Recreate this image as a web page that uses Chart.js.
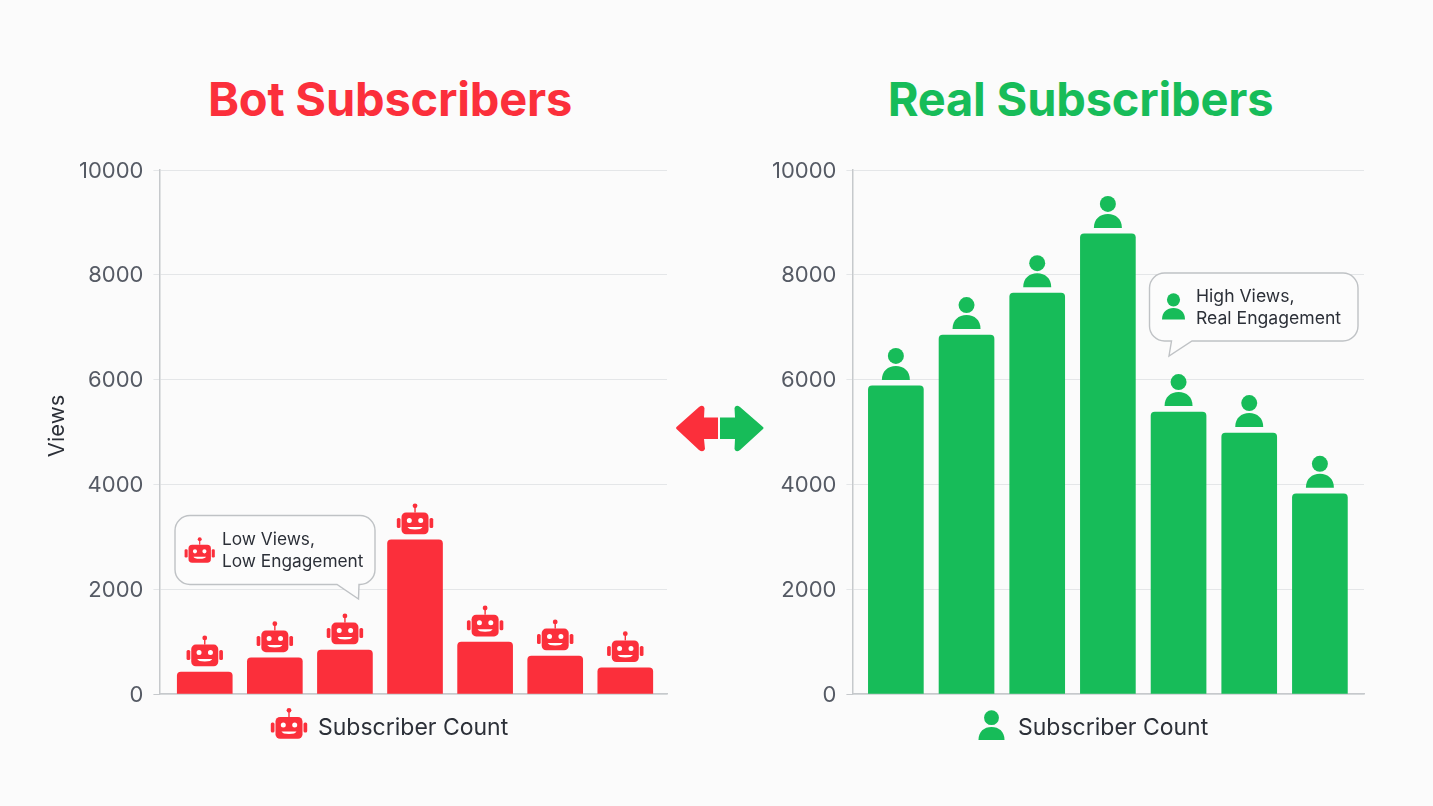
<!DOCTYPE html>
<html><head><meta charset="utf-8">
<script src="https://cdn.jsdelivr.net/npm/chart.js@4"></script>
<style>
html,body{margin:0;padding:0;width:1433px;height:806px;overflow:hidden;background:#fbfbfb;font-family:Inter,sans-serif}
canvas{position:absolute;top:0}
.t{position:absolute;top:69px;font:700 47px Inter,sans-serif;white-space:nowrap;transform:translateX(-50%);line-height:60px;letter-spacing:-0.2px}
svg{position:absolute;left:0;top:0}
</style></head><body>
<div class="t" style="left:390px;color:#fb2f3b">Bot Subscribers</div>
<div class="t" style="left:1080.5px;color:#17bc59">Real Subscribers</div>
<canvas id="a" style="left:0"></canvas>
<canvas id="b" style="left:719px"></canvas>
<svg width="1433" height="806">
<path d="M718 417.5V439H704L705 449Q703 453 699 450L676.5 429Q675.500 428 676.500 427L699 407Q703 404 704.500 408L704 417.500Z" fill="#fb2f3b"/>
<path d="M720 417.500V439H735L734.500 449Q736 453 740 450L763 429Q764 428 763 427L740 407Q736 404 734.500 408L735 417.500Z" fill="#17bc59"/>
</svg>
<script>
const categories = ['1','2','3','4','5','6','7'];
const botViews = [420, 690, 840, 2940, 990, 725, 500];
const realViews = [5880, 6850, 7650, 8780, 5380, 4980, 3820];
const yTicks = [0, 2000, 4000, 6000, 8000, 10000];
const xAxisLabel = 'Subscriber Count';
const yAxisLabel = 'Views';
const botNote = ['Low Views,', 'Low Engagement'];
const realNote = ['High Views,', 'Real Engagement'];

const RED = '#fb2f3b', GREEN = '#17bc59', INK = '#2c3038', AXIS = '#c6c9cc', GRID = '#e4e6e8';

function robot(c, cx, by, s, col){ // cx centre, by head bottom
  const w=27*s,h=21.7*s,top=by-h;
  c.fillStyle=col;
  c.beginPath();c.roundRect(cx-w/2,top,w,h,4.5*s);c.fill();
  c.beginPath();c.roundRect(cx-w/2-4.7*s,top+5.5*s,3.7*s,10*s,1.5*s);c.fill();
  c.beginPath();c.roundRect(cx+w/2+1*s,top+5.5*s,3.7*s,10*s,1.5*s);c.fill();
  c.fillRect(cx-.7*s,top-6*s,1.4*s,6*s);
  c.beginPath();c.arc(cx,top-6.7*s,2.4*s,0,7);c.fill();
  c.fillStyle='#fff';
  c.beginPath();c.arc(cx-5.7*s,top+8*s,2.5*s,0,7);c.arc(cx+5.7*s,top+8*s,2.5*s,0,7);c.fill();
  c.beginPath();c.moveTo(cx-7.5*s,top+14.5*s);c.lineTo(cx+7.5*s,top+14.5*s);
  c.quadraticCurveTo(cx+6.5*s,top+17*s,cx,top+17*s);c.quadraticCurveTo(cx-6.5*s,top+17*s,cx-7.5*s,top+14.5*s);c.fill();
}
function person(c, cx, by, s, col){ // by body bottom
  c.fillStyle=col;
  c.beginPath();c.arc(cx,by-24*s,8*s,0,7);c.fill();
  c.beginPath();c.moveTo(cx-14*s,by);
  c.bezierCurveTo(cx-14*s,by-9*s,cx-8*s,by-14*s,cx,by-14*s);
  c.bezierCurveTo(cx+8*s,by-14*s,cx+14*s,by-9*s,cx+14*s,by);c.closePath();c.fill();
}
function bubble(c,x0,y0,x1,y1,r,ta,tx,ty,tb){
  c.beginPath();c.moveTo(x0+r,y0);c.arcTo(x1,y0,x1,y1,r);c.arcTo(x1,y1,x0,y1,r);
  c.lineTo(ta,y1);c.lineTo(tx,ty);c.lineTo(tb,y1);
  c.arcTo(x0,y1,x0,y0,r);c.arcTo(x0,y0,x1,y0,r);c.closePath();
  c.fillStyle='#fcfcfc';c.fill();c.strokeStyle='#bfc2c5';c.lineWidth=1.4;c.stroke();
}
function marks(kind, off){
  return {id:'marks'+kind,
  afterLayout(ch){ ch.scales.y.getLabelItems(ch.chartArea).forEach(it=>{it.textOffset+=1;}); },
  afterDatasetsDraw(ch){
    const c=ch.ctx,x=ch.scales.x,y=ch.scales.y,vals=ch.data.datasets[0].data;
    vals.forEach(p=>{
      const px=x.getPixelForValue(p.x),py=y.getPixelForValue(p.y);
      if(kind==='bot') robot(c,px,py-5.7,1,RED); else person(c,px,py-6,1,GREEN);
    });
    c.textBaseline='middle';c.textAlign='left';
    if(kind==='bot'){
      bubble(c,175,515.5,375,584.5,15,359,358.5,599,337);
      robot(c,199.7,562.7,.83,RED);
      c.fillStyle=INK;c.font='17.3px Inter, sans-serif';
      c.fillText(botNote[0],222,539.5);c.fillText(botNote[1],222,562);
      robot(c,289,738.7,1,RED);
      c.fillStyle=INK;c.font='23px Inter, sans-serif';
      c.fillText(xAxisLabel,318,728.5);
      c.font='22px Inter, sans-serif';
      c.save();c.translate(57,426);c.rotate(-Math.PI/2);c.textAlign='center';c.fillText(yAxisLabel,0,0);c.restore();
    } else {
      bubble(c,1149.5-off,273,1358-off,341,15,1192-off,1169-off,356,1171.5-off);
      person(c,1173.5-off,319.5,.82,GREEN);
      c.fillStyle=INK;c.font='17.6px Inter, sans-serif';
      c.fillText(realNote[0],1196-off,296.5);c.fillText(realNote[1],1196-off,319);
      person(c,991.5-off,740,.93,GREEN);
      c.fillStyle=INK;c.font='23px Inter, sans-serif';
      c.fillText(xAxisLabel,1018-off,728.5);
    }
  }};
}
function make(id,w,vals,color,axisW,padR,xmin,xmax,kind,off){
  const el=document.getElementById(id);el.width=w;el.height=806;
  new Chart(el,{type:'bar',
    data:{labels:categories,datasets:[{data:vals.map((v,i)=>({x:i,y:v})),backgroundColor:color,barThickness:55,
      borderRadius:{topLeft:4,topRight:4,bottomLeft:0,bottomRight:0},borderSkipped:'bottom'}]},
    options:{responsive:false,animation:false,
      layout:{padding:{top:170,bottom:112,left:0,right:padR}},
      plugins:{legend:{display:false},tooltip:{enabled:false},title:{display:false}},
      scales:{
        x:{type:'linear',offset:false,min:xmin,max:xmax,grid:{display:false,drawTicks:false,offset:false},ticks:{display:false},
           border:{display:true,color:AXIS,width:1.5},afterFit(s){s.height=0;}},
        y:{min:0,max:10000,afterBuildTicks(s){s.ticks=yTicks.map(v=>({value:v}));},
           grid:{color:GRID,lineWidth:1,drawTicks:true,tickLength:6,tickColor:c=>c.tick&&c.tick.value===0?AXIS:GRID},
           border:{display:true,color:AXIS,width:1.5},
           ticks:{padding:10,color:'#555a64',font:{family:'Inter, sans-serif',size:22},callback:v=>String(v)},
           afterFit(s){s.width=axisW;}}
      }},
    plugins:[marks(kind,off)]});
}
make('a',719,botViews,RED,159.4,52,-0.647,6.595,'bot',0);
make('b',714,realViews,GREEN,133.4,69,-0.615,6.624,'real',719);
</script>
</body></html>
